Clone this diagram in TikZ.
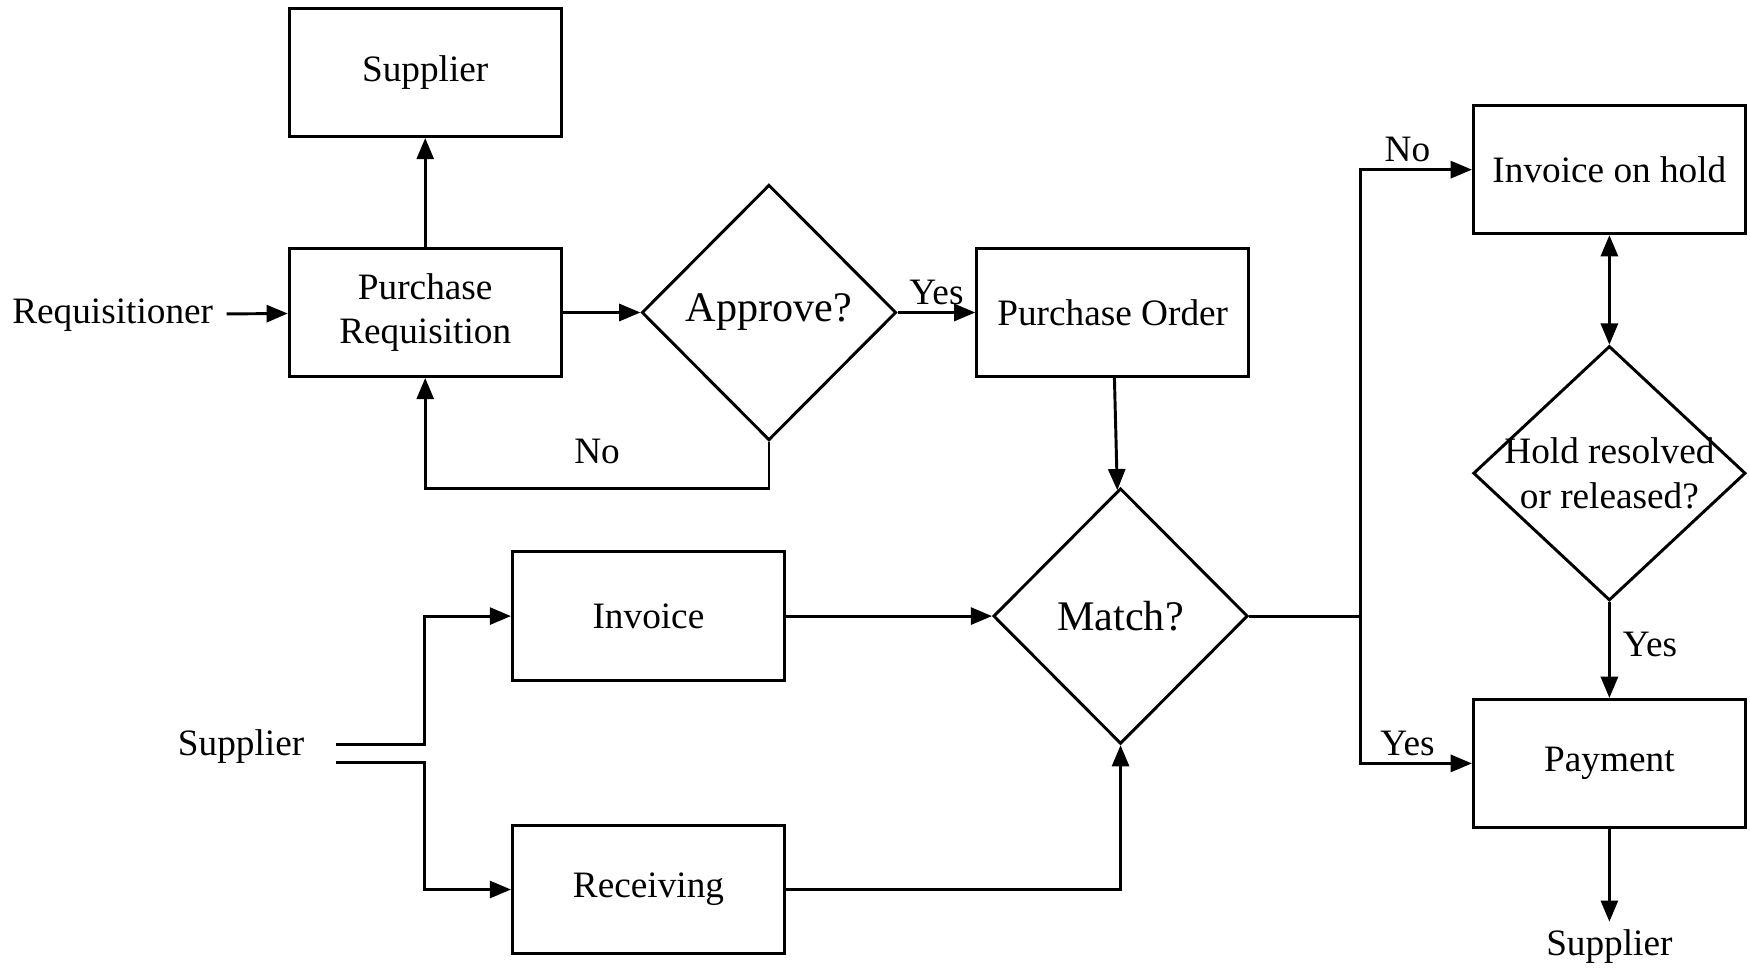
\documentclass[tikz,border=0pt]{standalone}
\usepackage{fontspec}
\setmainfont{Liberation Serif}
\usetikzlibrary{arrows,positioning,shapes.geometric}

\begin{document}
\begin{tikzpicture}[-,>=triangle 45,line width=1.5pt,node distance=6.16cm,auto,font=\fontsize{19}{22.5}\selectfont,
	main node/.style={rectangle, minimum width=4.88cm, minimum height=2.3cm, draw, align=center},
	decision/.style={diamond, minimum width=4.56cm, minimum height=4.58cm, inner sep=0pt, draw, align=center, font=\fontsize{21.5}{25}\selectfont}]
		% frame of the page
		\useasboundingbox (0,0) rectangle (31.36,-17.34);
		% purchasing part
		\node [main node](PR) at (7.62,-5.6) {Purchase\\Requisition};
		\node [main node](SupTop) [node distance = 4.3cm, above of = PR] {Supplier};
		\node (Req) [node distance = 5.6cm, left of = PR, yshift = -0.04cm] {Requisitioner};
		\node [decision](Approve) [right of = PR] {Approve?};
		\node [main node](PO) [right of = Approve] {Purchase Order};
		% matching part
		\node [decision](Match) [node distance = 5.44cm, below of = PO, xshift = 0.14cm] {Match?};
		\node [main node](Invoice) [node distance = 8.46cm, left of = Match] {Invoice};
		\node [main node](Receiving) [node distance = 4.9cm, below of = Invoice] {Receiving};
		\node (SupLeft) [node distance = 7.3cm, left of = Invoice, yshift = -2.34cm] {Supplier};
		% payment part
		\node [decision, minimum width = 4.88cm, minimum height = 4.56cm,
			label = {[align = center, font = \fontsize{19}{23}\selectfont]center:Hold resolved\\or released?}](Hold)
			[node distance = 8.76cm, right of = Match, yshift = 2.56cm] {};
		\node [main node](IOH) [node distance = 5.44cm, above of = Hold] {Invoice on hold};
		\node [main node](Payment) [node distance = 5.2cm, below of = Hold] {Payment};
		\node (SupRight) [node distance = 3.28cm, below of = Payment] {Supplier};

		\path [->]
		(Req) edge [shorten <= 0.1cm] (PR)
		(PR) edge (SupTop)
		(PR) edge (Approve)
		(Approve) edge node [above]{Yes} (PO)
		(PO) edge (Match)
		(Invoice) edge (Match)
		(IOH) edge [<->] (Hold)
		(Hold) edge node [right, xshift = 0.1cm, yshift = 0.1cm]{Yes} (Payment)
		(Payment) edge (SupRight);
		\draw [->] (Approve.south) --++(0,-0.84) -| node [pos = 0.25, above, yshift = 0.3cm]{No} (PR.south);
		\draw [->] (Receiving) -| (Match);

		\coordinate (s1) at ([xshift = 0.42cm, yshift = 0.04cm]SupLeft.east);
		\coordinate (s2) at ([xshift = 0.42cm, yshift = -0.28cm]SupLeft.east);
		\draw [->] (s1) --++(1.6,0) |- (Invoice);
		\draw [->] (s2) --++(1.6,0) |- (Receiving);

		\coordinate (jn) at ([xshift = 2cm]Match.east);
		\draw (Match) -- (jn);
		\draw [->] (jn) |- node [pos = 0.71, above]{No} (IOH);
		\draw [->] (jn) |- node [pos = 0.71, above]{Yes} (Payment);
\end{tikzpicture}
\end{document}
